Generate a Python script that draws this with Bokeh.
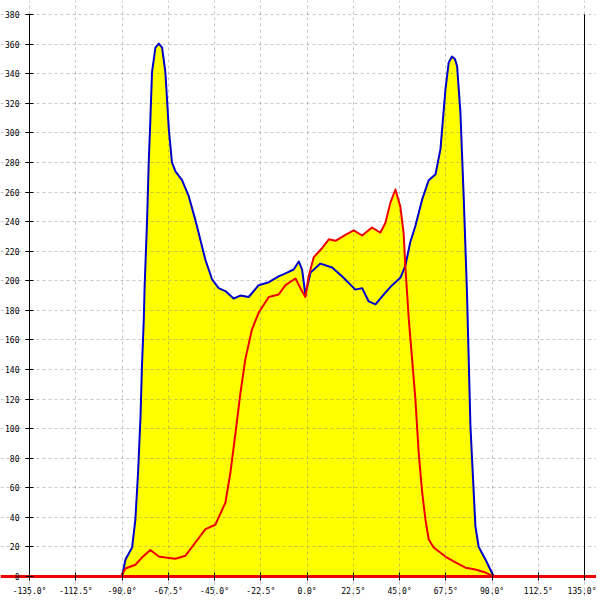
from bokeh.plotting import figure
from bokeh.models import FixedTicker, LinearAxis, Range1d
from bokeh.embed import file_html
from bokeh.resources import INLINE

# ---- data ----
angle_ticks = [-135.0, -112.5, -90.0, -67.5, -45.0, -22.5, 0.0, 22.5, 45.0, 67.5, 90.0, 112.5, 135.0]
angle_labels = ["-135.0°", "-112.5°", "-90.0°", "-67.5°", "-45.0°", "-22.5°", "0.0°",
                "22.5°", "45.0°", "67.5°", "90.0°", "112.5°", "135.0°"]
value_ticks = [0, 20, 40, 60, 80, 100, 120, 140, 160, 180, 200, 220, 240, 260, 280, 300, 320, 340, 360, 380]

blue_x = [-90.0, -88.3, -85.1, -83.5, -82.2, -81.0, -80.3, -79.4, -79.0, -77.8, -77.0, -76.2, -75.4,
          -73.75, -72.1, -70.5, -68.9, -67.2, -65.7, -64.0, -60.8, -57.5, -54.3, -49.4, -46.2, -43.0,
          -39.7, -35.7, -32.4, -28.4, -23.5, -18.6, -13.8, -9.7, -6.5, -4.0, -2.4, -0.8, 1.7, 6.5,
          12.2, 17.0, 23.5, 26.8, 30.0, 33.3, 38.1, 41.4, 45.4, 47.8, 50.2, 52.7, 56.0, 59.2, 62.5,
          64.9, 67.3, 68.9, 70.5, 71.9, 73.0, 74.6, 76.2, 77.8, 79.5, 81.9, 83.5, 86.8, 90.8]
blue_y = [0, 11.5, 19.6, 38.5, 70, 108, 142, 174, 196, 241, 280, 309, 341,
          357.7, 360.4, 357.7, 341, 302, 280, 274, 268, 257, 241, 214, 201, 195,
          193, 188, 190, 189, 197, 199, 203, 205.5, 207.6, 213, 207.6, 190.7, 205.5, 211.6,
          209, 203, 194, 195, 186, 184, 192, 197, 202, 210, 226, 237, 255, 268, 272,
          289, 329, 347.5, 351.6, 350, 345, 314, 257, 192, 101, 34, 20, 11.5, 0]

red_x = [-90.5, -88.3, -83.5, -80.3, -76.2, -72.1, -68.9, -64.0, -59.2, -54.3, -49.4, -44.6, -39.7,
         -37.3, -34.8, -32.4, -30.0, -26.8, -23.5, -18.6, -13.8, -10.5, -5.6, -3.2, -0.8, 0.8, 3.3,
         7.3, 10.6, 13.8, 18.7, 22.7, 26.8, 31.6, 35.7, 38.1, 40.6, 43.0, 45.4, 47.0, 47.8, 49.5,
         51.1, 52.7, 54.3, 56.0, 57.6, 59.2, 61.6, 67.3, 72.2, 77.1, 81.9, 86.8, 90.8]
red_y = [0, 5.4, 8, 12.8, 18, 13.5, 12.8, 12, 14, 23, 32, 35, 50,
         70, 97, 124, 147, 167, 178.5, 189, 190.7, 197, 201.5, 195, 189, 203, 216,
         222, 228, 227, 231, 234, 230.6, 236, 232.6, 239, 253, 261.7, 250, 232, 210, 174,
         147, 120, 84, 57, 38.5, 25, 19.6, 13.5, 9.5, 6, 4.7, 2.7, 0]

FILL = "#FFFF00"
BLUE = "#0000CC"
RED = "#EE0000"
FONT = "DejaVu Sans Mono"

p = figure(width=596, height=596,
           x_range=Range1d(-149.1, 140.8), y_range=Range1d(-13.5, 389.5),
           output_backend="svg", toolbar_location=None, min_border=0,
           background_fill_color="white", border_fill_color="white")
p.outline_line_color = None

# fills (under both curves)
r1 = p.varea(x=blue_x, y1=0, y2=blue_y, fill_color=FILL)
r2 = p.varea(x=red_x, y1=0, y2=red_y, fill_color=FILL)
r1.level = "image"
r2.level = "image"

p.line(blue_x, blue_y, line_color=BLUE, line_width=2, line_join="round")
p.line(red_x, red_y, line_color=RED, line_width=2, line_join="round")

# x axis
xa = p.xaxis[0]
xa.fixed_location = 0
xa.ticker = FixedTicker(ticks=angle_ticks)
xa.major_label_overrides = {t: l for t, l in zip(angle_ticks, angle_labels)}
xa.axis_line_color = RED
xa.axis_line_width = 3
xa.major_tick_in = 4
xa.major_tick_out = 4
xa.major_tick_line_color = "black"
xa.minor_tick_line_color = None
xa.major_label_text_font = FONT
xa.major_label_text_font_size = "8px"
xa.major_label_text_color = "black"
xa.major_label_standoff = 6

# y axis
ya = p.yaxis[0]
ya.fixed_location = -135
ya.bounds = (0, 380)
ya.ticker = FixedTicker(ticks=value_ticks)
ya.axis_line_color = "black"
ya.major_tick_in = 4
ya.major_tick_out = 4
ya.minor_tick_line_color = None
ya.major_label_text_font = FONT
ya.major_label_text_font_size = "8px"
ya.major_label_text_color = "black"
ya.major_label_standoff = 6

# right axis line
ra = LinearAxis(fixed_location=135, bounds=(0, 380), ticker=FixedTicker(ticks=[]),
                major_tick_line_color=None, minor_tick_line_color=None,
                major_label_text_color=None, axis_line_color="black")
p.add_layout(ra, "right")

# grid
for g in (p.xgrid[0], p.ygrid[0]):
    g.grid_line_color = "#808080"
    g.grid_line_alpha = 0.45
    g.grid_line_dash = "3 3"
p.xgrid[0].ticker = FixedTicker(ticks=angle_ticks)
p.xgrid[0].bounds = (0, 380)
p.ygrid[0].ticker = FixedTicker(ticks=value_ticks)
p.ygrid[0].bounds = (-135, 135)

open("out.html", "w").write(file_html(p, INLINE))
